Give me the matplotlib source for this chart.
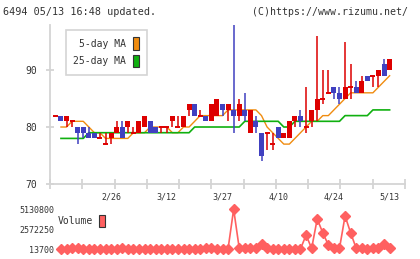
import numpy as np
import matplotlib
matplotlib.use("Agg")
import matplotlib.pyplot as plt
from matplotlib.patches import Patch

plt.rcParams['font.family'] = ['DejaVu Sans Mono']

# daily candles, index -1 .. 59
day = np.arange(-1, 60)
open_ = [82, 82, 81, 81, 80, 80, 79, 79, 78, 77, 78, 79, 80, 80, 79, 79, 80, 81, 80, 80,
         80, 81, 80, 80, 83, 84, 82, 82, 81, 82, 84, 83, 83, 82, 83, 79, 81, 79, 79, 77,
         80, 78, 78, 81, 82, 80, 81, 83, 85, 86, 87, 86, 85, 87, 87, 86, 89, 89, 89, 91, 90]
high = [82, 82, 82, 81, 80, 80, 80, 79, 79, 79, 79, 81, 81, 81, 80, 81, 82, 81, 80, 80,
        80, 82, 82, 82, 84, 84, 83, 82, 84, 85, 84, 84, 98, 85, 86, 83, 82, 79, 79, 79,
        80, 79, 81, 82, 83, 87, 83, 96, 90, 90, 87, 87, 95, 91, 88, 89, 89, 89, 90, 92, 92]
low = [82, 81, 80, 80, 77, 78, 78, 78, 78, 77, 77, 79, 78, 79, 79, 79, 80, 79, 79, 79,
       79, 80, 80, 80, 82, 82, 82, 81, 81, 82, 82, 81, 79, 81, 81, 79, 79, 74, 76, 76,
       78, 78, 78, 80, 80, 79, 80, 81, 84, 86, 85, 84, 85, 85, 86, 86, 88, 87, 87, 89, 90]
close = [82, 81, 82, 81, 79, 79, 78, 78, 78, 77, 79, 80, 78, 81, 79, 81, 82, 79, 79, 80,
         80, 82, 80, 82, 84, 82, 82, 81, 84, 85, 83, 84, 82, 84, 82, 83, 80, 75, 79, 77,
         78, 79, 81, 82, 81, 80, 83, 85, 85, 86, 86, 85, 87, 87, 86, 88, 88, 89, 90, 89, 92]

# moving averages, index 0 .. 59
ma_day = np.arange(0, 60)
ma5 = [80, 80, 81, 81, 81, 80, 79, 79, 78, 78, 78, 78, 78, 79, 79, 79, 80, 80, 80, 80,
       79, 79, 80, 80, 81, 82, 82, 82, 82, 82, 83, 83, 83, 83, 83, 83, 82, 80, 79, 78,
       77, 77, 78, 79, 80, 81, 81, 82, 82, 83, 84, 85, 86, 86, 86, 86, 86, 87, 88, 89]
ma25 = [78, 78, 78, 78, 78, 79, 79, 79, 79, 79, 79, 79, 79, 79, 79, 79, 79, 79, 79, 79,
        79, 79, 79, 79, 80, 80, 80, 80, 80, 80, 80, 80, 80, 81, 81, 81, 81, 81, 81, 81,
        80, 80, 81, 81, 81, 81, 81, 81, 81, 81, 81, 82, 82, 82, 82, 82, 83, 83, 83, 83]

volume = [30000, 13700, 80000, 200000, 40000, 30000, 13700, 20000, 30000, 20000,
          60000, 90000, 60000, 20000, 30000, 60000, 20000, 30000, 50000, 20000,
          60000, 40000, 50000, 30000, 40000, 60000, 100000, 80000, 60000, 60000,
          60000, 5130800, 120000, 100000, 110000, 120000, 600000, 120000, 40000, 30000,
          30000, 40000, 30000, 30000, 1800000, 100000, 3880000, 2100000, 530000, 100000,
          100000, 4270000, 2100000, 100000, 200000, 60000, 100000, 120000, 650000, 200000]

date_pos = [9, 19, 29, 39, 49, 59]
date_labels = ['2/26', '3/12', '3/27', '4/10', '4/24', '5/13']
vol_ticks = [13700, 2572250, 5130800]

red = '#dd0000'
blue = '#4040c0'
orange = '#f08c10'
green = '#10b010'
grid_c = '#d4d4d4'
txt = '#333333'

fig = plt.figure(figsize=(4.2, 2.59), dpi=100)
ax = fig.add_axes([50/420, 75/259, 355/420, 159/259])
axv = fig.add_axes([50/420, 4/259, 355/420, 52/259])

xlim = (-1.97, 61.76)

# candles
o = np.array(open_)
c = np.array(close)
up = c >= o
col = np.where(up, red, blue)
ax.vlines(day, low, high, colors=col, lw=1.1, zorder=3)
body = c != o
ax.bar(day[body], np.abs(c - o)[body], bottom=np.minimum(o, c)[body], width=0.9,
       color=col[body], zorder=4)
ax.hlines(c[~body], day[~body] - 0.45, day[~body] + 0.45, colors=col[~body], lw=1.4, zorder=4)

ax.plot(ma_day, ma5, color=orange, lw=1.0, zorder=2)
ax.plot(ma_day, ma25, color=green, lw=1.2, zorder=2)

ax.set_xlim(*xlim)
ax.set_ylim(70, 97.9)
for s in ['top', 'right']:
    ax.spines[s].set_visible(False)
for s in ['left', 'bottom']:
    ax.spines[s].set_color(grid_c)
    ax.spines[s].set_linewidth(1.3)
ax.set_yticks([70, 80, 90])
ax.tick_params(axis='y', direction='inout', length=6, width=1.3, color=grid_c,
               labelsize=7, labelcolor=txt, pad=6)
ax.set_xticks(date_pos, date_labels)
ax.tick_params(axis='x', which='major', length=0, labelsize=6, labelcolor=txt, pad=6)
ax.set_xticks(np.linspace(xlim[0], xlim[1], 12), minor=True)
ax.tick_params(axis='x', which='minor', direction='inout', length=7, width=1.3, color=grid_c)

leg = ax.legend([Patch(facecolor=orange, edgecolor='#333333', lw=0.8),
                 Patch(facecolor=green, edgecolor='#333333', lw=0.8)],
                ['5-day MA', '25-day MA'], markerfirst=False, loc='upper left',
                bbox_to_anchor=(0.03, 1.0), fontsize=7, handlelength=0.6,
                handleheight=1.6, handletextpad=0.8, labelspacing=0.55,
                borderpad=0.75, fancybox=False, edgecolor=grid_c, framealpha=1)
leg.get_frame().set_linewidth(1.2)
for t in leg.get_texts():
    t.set_color(txt)

# volume panel
axv.plot(ma_day, volume, color='#ff6060', lw=1.2, marker='D', ms=4.6, mec='#ff6060')
axv.set_xlim(*xlim)
axv.set_ylim(-759664, 5942833)
for s in axv.spines.values():
    s.set_visible(False)
axv.set_xticks([])
axv.set_yticks(vol_ticks, [str(v) for v in vol_ticks])
axv.tick_params(axis='y', length=0, labelsize=6, labelcolor=txt, pad=-3)
vleg = axv.legend([Patch(facecolor='#ff6060', edgecolor='#333333', lw=0.8)], ['Volume'],
                  markerfirst=False, loc='upper left', bbox_to_anchor=(0.0, 0.92),
                  fontsize=7, handlelength=0.6, handleheight=1.6, handletextpad=0.6,
                  borderpad=0.3, frameon=False)
for t in vleg.get_texts():
    t.set_color(txt)

fig.text(3/420, 1 - 12/259, '6494 05/13 16:48 updated.', fontsize=7.3, color=txt, va='center')
fig.text(408/420, 1 - 12/259, '(C)https://www.rizumu.net/', fontsize=7.1, color=txt,
         va='center', ha='right')

fig.savefig('out.png', dpi=100)
